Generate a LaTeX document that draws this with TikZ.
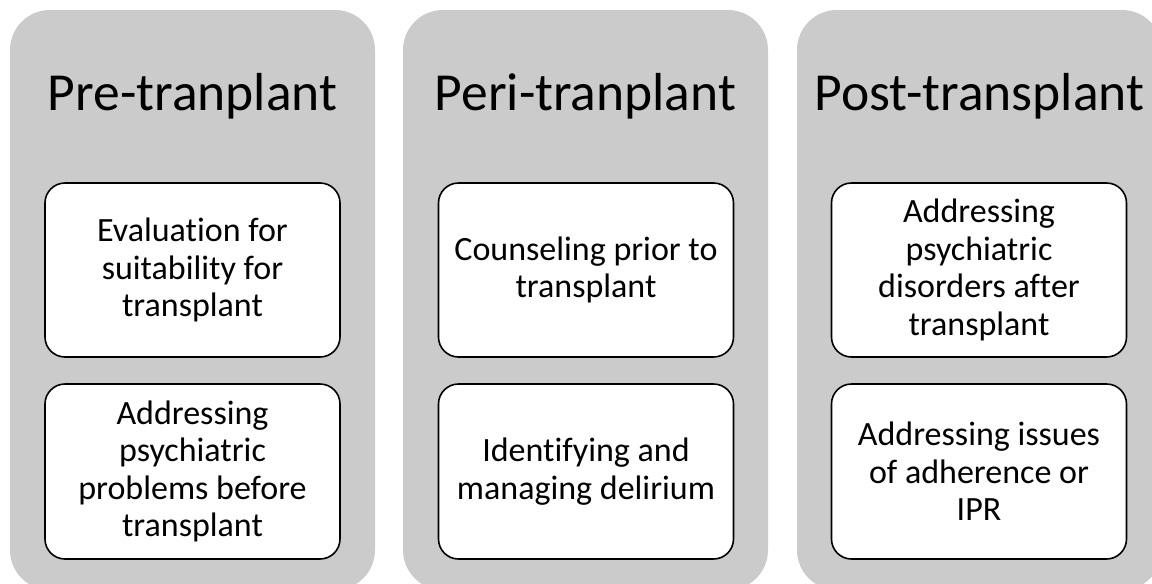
\documentclass[tikz,border=0pt]{standalone}
\usepackage{fontspec}
\setmainfont[Ligatures={NoCommon}]{Carlito}
\definecolor{panelgrey}{RGB}{203,203,203}
\tikzset{
  panel/.style={rectangle, rounded corners=40pt, fill=panelgrey, draw=none,
    minimum width=365pt, minimum height=580pt, inner sep=0pt},
  phase/.style={anchor=base, font=\fontsize{53.5}{64}\selectfont, inner sep=0pt},
  task/.style={rectangle, rounded corners=20pt, draw=black, line width=1.6pt,
    fill=white, minimum width=295pt, minimum height=174pt, inner sep=0pt,
    align=center, font=\fontsize{34}{37.4}\selectfont}
}
\begin{document}
\begin{tikzpicture}[x=1pt, y=-1pt]
  \useasboundingbox (0,0) rectangle (1152,584);
  \clip (0,0) rectangle (1152,584);

  % three phase panels
  \node[panel] (pre)  at (192.5,300) {};
  \node[panel] (peri) at (585.5,300) {};
  \node[panel] (post) at (979.5,300) {};

  % panel headings
  \node[phase] (preT)  at (192.5,110) {Pre-tranplant};
  \node[phase] (periT) at (585.5,110) {Peri-tranplant};
  \node[phase] (postT) at (979.5,110) {Post-transplant};

  % tasks in each phase
  \node[task] (pre1) at (192.5,270) {Evaluation for\\suitability for\\transplant};
  \node[task, minimum height=175pt] (pre2) at (192.5,471.5) {Addressing\\psychiatric\\problems before\\transplant};

  \node[task] (peri1) at (586,270) {Counseling prior to\\transplant};
  \node[task, minimum height=175pt] (peri2) at (586,471.5) {Identifying and\\managing delirium};

  \node[task] (post1) at (979,270) {Addressing\\psychiatric\\disorders after\\transplant};
  \node[task, minimum height=175pt] (post2) at (979,471.5) {Addressing issues\\of adherence or\\IPR};
\end{tikzpicture}
\end{document}
